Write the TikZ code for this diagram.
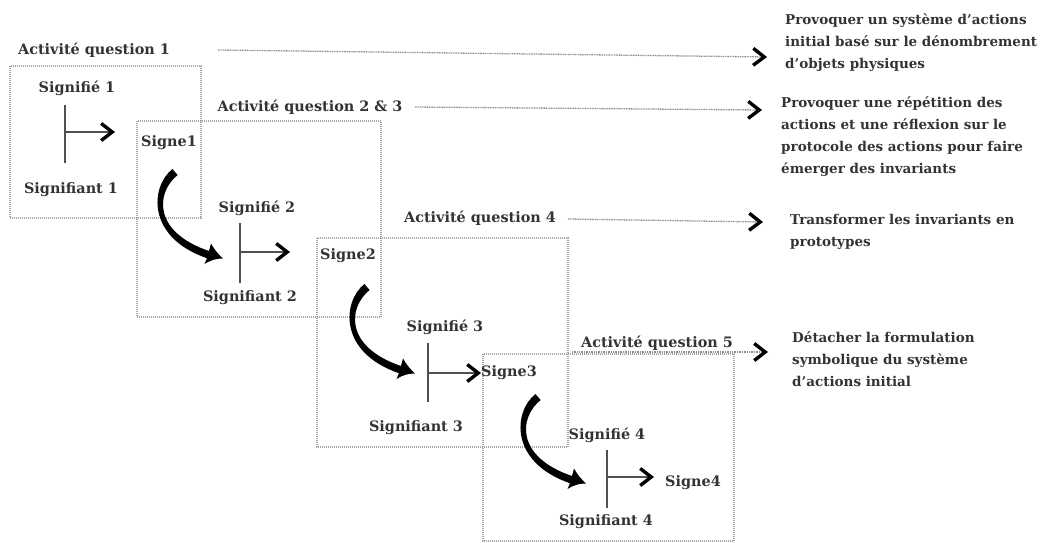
\documentclass[tikz,border=0pt]{standalone}
\usepackage{fontspec}
\setmainfont{DejaVu Serif}
\usetikzlibrary{arrows.meta}
\definecolor{txt}{HTML}{333333}
\definecolor{dotc}{HTML}{8E8E8E}
\definecolor{stem}{HTML}{505050}
\begin{document}
\begin{tikzpicture}[x=1pt,y=-1pt,
  lab/.style={font=\fontsize{14.4}{16}\selectfont\bfseries, text=txt, inner sep=0pt},
  desc/.style={font=\fontsize{13.5}{22}\selectfont\bfseries, text=txt, align=left, anchor=north west, inner sep=0pt},
  dbox/.style={draw=dotc!80, line width=1.1pt, dash pattern=on 1pt off 1pt},
  chev/.style={-{Straight Barb[length=11pt,width=17pt,line width=3.4pt,color=black]}},
  darrow/.style={draw=dotc, line width=1.3pt, dash pattern=on 1pt off 0.7pt, chev},
  stemline/.style={draw=stem, line width=1.5pt},
  sarrow/.style={draw=stem, line width=1.4pt, chev},
  bend arrow/.pic={
    \fill[black] (-2.6,-3) .. controls (-25,15) and (-28.5,65.5) .. (32,86.2)
      -- (29.5,92) .. controls (36,88) and (41,86.5) .. (48,86.5)
      .. controls (43,82) and (39,77) .. (36,71.5)
      -- (34,79) .. controls (-22,60) and (-19.5,21) .. (2.6,3) -- cycle;
  }]
\useasboundingbox (0,0) rectangle (1044,542);

% dotted boxes
\draw[dbox] (10,66) rectangle (201,218);
\draw[dbox] (137,121) rectangle (381,317);
\draw[dbox] (317,238) rectangle (568,447);
\draw[dbox] (483,354) rectangle (734,541);

% activity labels
\node[lab] (aq1) at (94,50) {Activité question 1};
\node[lab] (aq2) at (310,107) {Activité question 2 \& 3};
\node[lab] (aq4) at (480,218) {Activité question 4};
\node[lab] (aq5) at (657,343) {Activité question 5};

% descriptions
\node[desc] (d1) at (785,13) {Provoquer un système d’actions\\initial basé sur le dénombrement\\d’objets physiques};
\node[desc] (d2) at (781,96) {Provoquer une répétition des\\actions et une réflexion sur le\\protocole des actions pour faire\\émerger des invariants};
\node[desc] (d3) at (790,214) {Transformer les invariants en\\prototypes};
\node[desc] (d4) at (792,331) {Détacher la formulation\\symbolique du système\\d’actions initial};

% long dotted arrows
\coordinate (s1) at (218,50);  \coordinate (e1) at (767,57);
\coordinate (s2) at (415,107); \coordinate (e2) at (762,110);
\coordinate (s3) at (568,219); \coordinate (e3) at (763,222);
\coordinate (s4) at (572,352); \coordinate (e4) at (768,352);
\draw[darrow] (s1) -- (e1);
\draw[darrow] (s2) -- (e2);
\draw[darrow] (s3) -- (e3);
\draw[darrow] (s4) -- (e4);

% sign block 1
\node[lab] (sf1) at (77,88) {Signifié 1};
\node[lab] (sa1) at (71,190) {Signifiant 1};
\node[lab] (sg1) at (169,143) {Signe1};
\coordinate (v1t) at (65,105); \coordinate (v1b) at (65,163);
\coordinate (h1s) at (65,132); \coordinate (h1e) at (115,132);
\draw[stemline] (v1t) -- (v1b);
\draw[sarrow] (h1s) -- (h1e);

% sign block 2
\node[lab] (sf2) at (257,208) {Signifié 2};
\node[lab] (sa2) at (250,298) {Signifiant 2};
\node[lab] (sg2) at (348,256) {Signe2};
\coordinate (v2t) at (240,223); \coordinate (v2b) at (240,283);
\coordinate (h2s) at (240,252); \coordinate (h2e) at (290,252);
\draw[stemline] (v2t) -- (v2b);
\draw[sarrow] (h2s) -- (h2e);

% sign block 3
\node[lab] (sf3) at (445,327) {Signifié 3};
\node[lab] (sa3) at (416,428) {Signifiant 3};
\node[lab, anchor=west] (sg3) at (481,373) {Signe3};
\coordinate (v3t) at (428,343); \coordinate (v3b) at (428,402);
\coordinate (h3s) at (428,373);
\draw[stemline] (v3t) -- (v3b);
\draw[sarrow] (h3s) -- (sg3.west);

% sign block 4
\node[lab] (sf4) at (607,435) {Signifié 4};
\node[lab] (sa4) at (606,522) {Signifiant 4};
\node[lab] (sg4) at (693,483) {Signe4};
\coordinate (v4t) at (607,450); \coordinate (v4b) at (607,508);
\coordinate (h4s) at (607,477); \coordinate (h4e) at (654,477);
\draw[stemline] (v4t) -- (v4b);
\draw[sarrow] (h4s) -- (h4e);

% curved transition arrows
\pic at (175,172) {bend arrow};
\pic at (367,287) {bend arrow};
\pic at (538,397) {bend arrow};
\end{tikzpicture}
\end{document}
